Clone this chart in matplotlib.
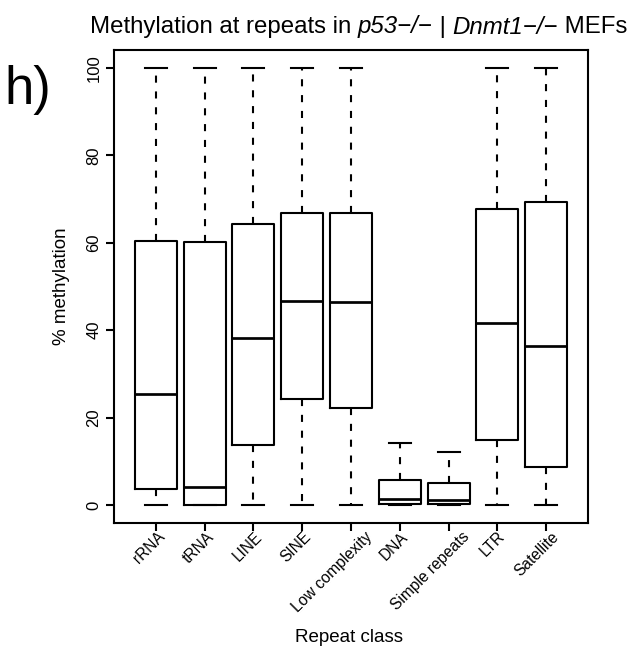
import matplotlib
matplotlib.use("Agg")
import matplotlib.pyplot as plt
from matplotlib.transforms import offset_copy

plt.rcParams['font.family'] = ['Liberation Sans', 'DejaVu Sans']

classes = ["rRNA", "tRNA", "LINE", "SINE", "Low complexity", "DNA",
           "Simple repeats", "LTR", "Satellite"]
whislo = [0, 0, 0, 0, 0, 0, 0, 0, 0]
q1 = [3.7, 0.0, 13.7, 24.3, 22.3, 0.2, 0.2, 14.9, 8.6]
med = [25.5, 4.2, 38.2, 46.7, 46.5, 1.3, 1.1, 41.6, 36.4]
q3 = [60.5, 60.2, 64.4, 66.8, 66.8, 5.7, 5.0, 67.7, 69.4]
whishi = [100, 100, 100, 100, 100, 14.3, 12.1, 100, 100]

title_parts = [("Methylation at repeats in ", "normal"),
               ("p53\u2212/\u2212", "italic"),
               (" | ", "normal"),
               ("Dnmt1\u2212/\u2212", "italic"),
               (" MEFs", "normal")]

stats = []
for i in range(len(classes)):
    stats.append({"label": classes[i], "whislo": whislo[i], "q1": q1[i],
                  "med": med[i], "q3": q3[i], "whishi": whishi[i], "fliers": []})

fig = plt.figure(figsize=(6.35, 6.47), dpi=100)
ax = fig.add_axes([0.1795, 0.1924, 0.7465, 0.7296])

lw = 1.5
ax.bxp(stats, positions=range(1, 10), widths=0.86, capwidths=0.45,
       showfliers=False,
       boxprops=dict(color='black', linewidth=lw),
       medianprops=dict(color='black', linewidth=lw * 1.3),
       whiskerprops=dict(color='black', linewidth=lw, linestyle=(0, (3.4, 4.2))),
       capprops=dict(color='black', linewidth=lw))

ax.set_xlim(0.14, 9.86)
ax.set_ylim(-4, 104)
ax.set_yticks([0, 20, 40, 60, 80, 100])
ax.set_yticklabels(["0", "20", "40", "60", "80", "100"], rotation=90, va='center', fontsize=12)
ax.set_xticks(range(1, 10))
ax.set_xticklabels(classes, rotation=45, ha='right', va='center',
                   rotation_mode='anchor', fontsize=11.2)
ax.tick_params(axis='both', length=6, width=lw, direction='out')
ax.tick_params(axis='y', pad=3)
ax.tick_params(axis='x', pad=2.5)
for s in ax.spines.values():
    s.set_linewidth(lw)

ax.set_ylabel("% methylation", fontsize=13.5, labelpad=12)
fig.text(0.549, 1 - 638 / 647, "Repeat class", fontsize=13.5, ha='center', va='center')

renderer = fig.canvas.get_renderer()

# in the original the rotated labels run a bit past their ticks, more so for long ones
for lab in ax.get_xticklabels():
    lab.set_rotation(0)
    w = lab.get_window_extent(renderer).width
    lab.set_rotation(45)
    lab.set_transform(lab.get_transform() + matplotlib.transforms.Affine2D().translate(0.18 * w, 0))

# title built from pieces so the gene names stay italic
x0 = 90
y0 = 1 - 27 / 647
offset = 0
for txt, style in title_parts:
    t = fig.text(x0 / 635, y0, txt, fontsize=17.3, style=style,
                 ha='left', va='center',
                 transform=offset_copy(fig.transFigure, fig=fig, x=offset, y=0, units='dots'))
    offset += t.get_window_extent(renderer).width

fig.text(28 / 635, 1 - 90 / 647, "h)", fontsize=38, ha='center', va='center')

fig.savefig("out.png", dpi=100)
